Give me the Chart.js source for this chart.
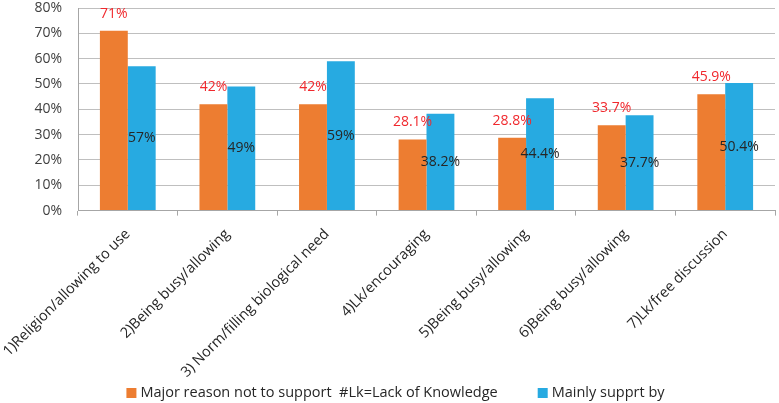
<!DOCTYPE html>
<html>
<head>
<meta charset="utf-8">
<script src="https://cdn.jsdelivr.net/npm/chart.js@4/dist/chart.umd.min.js"></script>
<style>
  html, body { margin: 0; padding: 0; background: #fff; }
  #wrap { width: 779px; height: 403px; }
</style>
</head>
<body>
<div id="wrap"><canvas id="myChart"></canvas></div>
<script>
var categories = [
    "1)Religion/allowing to use",
    "2)Being busy/allowing",
    "3) Norm/filling biological need",
    "4)Lk/encouraging",
    "5)Being busy/allowing",
    "6)Being busy/allowing",
    "7)Lk/free discussion"
];
var notSupport = [71, 42, 42, 28.1, 28.8, 33.7, 45.9];
var supportBy = [57, 49, 59, 38.2, 44.4, 37.7, 50.4];
var yTicks = [0, 10, 20, 30, 40, 50, 60, 70, 80];

var fontFamily = "'Open Sans', 'Liberation Sans', sans-serif";

// draws the value labels, red above orange bars, dark inside blue bars
var valueLabels = {
    id: "valueLabels",
    afterDatasetsDraw: function(chart){
        var ctx = chart.ctx;
        ctx.save();
        ctx.font = "14px " + fontFamily;
        ctx.textAlign = "center";
        ctx.textBaseline = "middle";
        chart.data.datasets.forEach(function(ds, i){
            var meta = chart.getDatasetMeta(i);
            meta.data.forEach(function(bar, j){
                var text = ds.data[j] + "%";
                if(i == 0){
                    ctx.fillStyle = "#F0282D";
                    ctx.fillText(text, bar.x, bar.y - 17);
                }
                else{
                    ctx.fillStyle = "#262626";
                    ctx.fillText(text, bar.x, (bar.y + bar.base) / 2);
                }
            });
        });
        ctx.restore();
    }
};

// legend drawn at the bottom with a wide gap between the two entries
var bottomLegend = {
    id: "bottomLegend",
    afterDraw: function(chart){
        var ctx = chart.ctx;
        var box = 10, gap = 4, itemGap = 40;
        ctx.save();
        ctx.font = "14.5px " + fontFamily;
        ctx.textBaseline = "middle";
        var widths = chart.data.datasets.map(function(ds){
            return box + gap + ctx.measureText(ds.label).width;
        });
        var total = widths.reduce(function(a, b){ return a + b; }, 0) + itemGap * (widths.length - 1);
        var x = chart.width / 2 - total / 2 + 6;
        var y = chart.height - 10;
        chart.data.datasets.forEach(function(ds, i){
            ctx.fillStyle = ds.backgroundColor;
            ctx.fillRect(x, y - box / 2, box, box);
            ctx.fillStyle = "#262626";
            ctx.fillText(ds.label, x + box + gap, y);
            x += widths[i] + itemGap;
        });
        ctx.restore();
    }
};

var data = {
    labels: categories,
    datasets: [
        {
            label: "Major reason not to support  #Lk=Lack of Knowledge",
            backgroundColor: "#ED7D31",
            borderWidth: 0,
            data: notSupport
        },
        {
            label: "Mainly supprt by",
            backgroundColor: "#27AAE1",
            borderWidth: 0,
            data: supportBy
        }
    ]
};

var ctx = document.getElementById("myChart").getContext("2d");

var myChart = new Chart(ctx, {
    type: "bar",
    data: data,
    plugins: [valueLabels, bottomLegend],
    options: {
        responsive: true,
        maintainAspectRatio: false,
        animation: false,
        layout: { padding: { top: 8, right: 4, left: 0, bottom: 12 } },
        datasets: {
            bar: { categoryPercentage: 0.56, barPercentage: 1.0 }
        },
        plugins: {
            legend: { display: false },
            tooltip: { enabled: false }
        },
        scales: {
            x: {
                afterFit: function(axis){
                    axis.paddingLeft = 0;
                },
                grid: {
                    display: true,
                    drawOnChartArea: false,
                    drawTicks: true,
                    tickLength: 5,
                    color: "#A6A6A6",
                    offset: true
                },
                border: { color: "#A6A6A6" },
                ticks: {
                    minRotation: 45,
                    maxRotation: 45,
                    padding: 10,
                    color: "#262626",
                    font: { family: fontFamily, size: 14.5 }
                }
            },
            y: {
                min: 0,
                max: 80,
                afterBuildTicks: function(axis){
                    axis.ticks = yTicks.map(function(v){ return { value: v }; });
                },
                afterFit: function(axis){
                    axis.paddingTop = 0;
                    axis.width = 78;
                },
                grid: {
                    color: "#BFBFBF",
                    drawTicks: false
                },
                border: { color: "#A6A6A6" },
                ticks: {
                    autoSkip: false,
                    padding: 16,
                    color: "#404040",
                    font: { family: fontFamily, size: 14 },
                    callback: function(v){ return v + "%"; }
                }
            }
        }
    }
});
</script>
</body>
</html>
